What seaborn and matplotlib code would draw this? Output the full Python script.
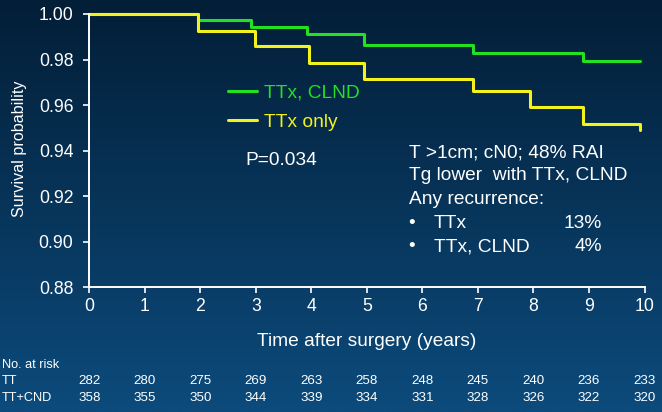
import numpy as np
import pandas as pd
import matplotlib
matplotlib.use("Agg")
import matplotlib.pyplot as plt
import matplotlib.transforms as mtrans
import seaborn as sns

# ---- data ----
t_clnd = [0, 1.96, 2.91, 3.93, 4.94, 6.91, 8.90, 9.92]
s_clnd = [1.0, 0.9974, 0.9944, 0.9912, 0.9863, 0.9830, 0.9792, 0.9792]
t_only = [0, 1.96, 2.98, 3.96, 4.94, 6.91, 7.93, 8.90, 9.92]
s_only = [1.0, 0.9925, 0.9861, 0.9784, 0.9713, 0.9662, 0.9590, 0.9516, 0.9491]
group_labels = ["TTx, CLND", "TTx only"]
risk_times = [0, 1, 2, 3, 4, 5, 6, 7, 8, 9, 10]
risk_tt = [282, 280, 275, 269, 263, 258, 248, 245, 240, 236, 233]
risk_ttcnd = [358, 355, 350, 344, 339, 334, 331, 328, 326, 322, 320]
risk_rows = ["TT", "TT+CND"]
x_ticks = list(range(0, 11))
y_ticks = [0.88, 0.90, 0.92, 0.94, 0.96, 0.98, 1.00]

df = pd.concat([
    pd.DataFrame({"time": t_clnd, "surv": s_clnd, "group": group_labels[0]}),
    pd.DataFrame({"time": t_only, "surv": s_only, "group": group_labels[1]}),
], ignore_index=True)

sns.set_theme(style="white")
plt.rcParams["font.family"] = ["Liberation Sans", "DejaVu Sans"]
W, H = 662, 412
fig = plt.figure(figsize=(W / 100, H / 100), dpi=100)

# background gradient
bg = fig.add_axes([0, 0, 1, 1], zorder=-10)
top = np.array([3, 30, 55]) / 255.0
bot = np.array([12, 75, 124]) / 255.0
f = np.linspace(0, 1, 256)[:, None]
grad = (top[None, :] * (1 - f) + bot[None, :] * f)[:, None, :]
bg.imshow(grad, aspect="auto", extent=[0, 1, 0, 1], origin="upper")
bg.axis("off")

def fx(px):
    return px / W

def fy(py):
    return 1 - py / H

ax = fig.add_axes([fx(89.3), fy(287.3), fx(644.5) - fx(89.3), fy(14) - fy(287.3)])
ax.set_facecolor("none")

palette = {group_labels[0]: "#22e022", group_labels[1]: "#f2f21e"}
sns.lineplot(data=df, x="time", y="surv", hue="group", palette=palette,
             drawstyle="steps-post", estimator=None, linewidth=2.2, ax=ax,
             legend=True, clip_on=False)

ax.set_xlim(0, 10)
ax.set_ylim(0.88, 1.00)
ax.set_xticks(x_ticks)
ax.set_yticks(y_ticks)
ax.set_yticklabels([f"{v:.2f}" for v in y_ticks])
ax.tick_params(axis="both", colors="white", labelcolor="white", labelsize=12.7,
               length=4, width=1.2, direction="out")
ax.tick_params(axis="y", pad=7.5)
ax.tick_params(axis="x", pad=4)
ax.tick_params(bottom=True, left=True)
for s in ["top", "right"]:
    ax.spines[s].set_visible(False)
for s in ["left", "bottom"]:
    ax.spines[s].set_color("white")
    ax.spines[s].set_linewidth(1.4)

ax.set_xlabel("")
ax.set_ylabel("")
fig.text(fx(20), fy(149), "Survival probability", color="white", fontsize=11.6,
         rotation=90, ha="center", va="center")
fig.text(fx(367), fy(341), "Time after surgery (years)", color="white", fontsize=13.8,
         ha="center", va="center")

# legend
handles, labels = ax.get_legend_handles_labels()
leg = ax.legend(handles, labels, loc="center left",
                bbox_to_anchor=(fx(228), fy(107.5)), bbox_transform=fig.transFigure,
                frameon=False, borderpad=0, borderaxespad=0, fontsize=13.8,
                handlelength=1.51, handletextpad=0.36, labelspacing=0.64)
for txt, lab in zip(leg.get_texts(), labels):
    txt.set_color(palette[lab])
for h in leg.get_lines():
    h.set_linewidth(2.2)

fig.text(fx(245), fy(160), "P=0.034", color="white", fontsize=13.8, ha="left", va="center")

# annotation block
lines_y = [153, 176, 199.5, 223, 246.5]
fig.text(fx(409), fy(lines_y[0]), "T >1cm; cN0; 48% RAI", color="white", fontsize=13.8, va="center")
fig.text(fx(409), fy(lines_y[1]), "Tg lower  with TTx, CLND", color="white", fontsize=13.8, va="center")
fig.text(fx(409), fy(lines_y[2]), "Any recurrence:", color="white", fontsize=13.8, va="center")
for yy, name, pct in [(lines_y[3], "TTx", "13%"), (lines_y[4], "TTx, CLND", "4%")]:
    fig.text(fx(412), fy(yy), "\u2022", color="white", fontsize=13.8, va="center", ha="center")
    fig.text(fx(434), fy(yy), name, color="white", fontsize=13.8, va="center")
    fig.text(fx(602), fy(yy), pct, color="white", fontsize=13.8, va="center", ha="right")

# number at risk table
trans = mtrans.blended_transform_factory(ax.transData, fig.transFigure)
fig.text(fx(2), fy(365), "No. at risk", color="white", fontsize=9.2, va="center")
for yy, name, vals in [(381, risk_rows[0], risk_tt), (398, risk_rows[1], risk_ttcnd)]:
    fig.text(fx(2), fy(yy), name, color="white", fontsize=9.2, va="center")
    for t, v in zip(risk_times, vals):
        ax.text(t, fy(yy), str(v), transform=trans, color="white", fontsize=9.6,
                ha="center", va="center", clip_on=False)

fig.savefig("out.png", dpi=100)
